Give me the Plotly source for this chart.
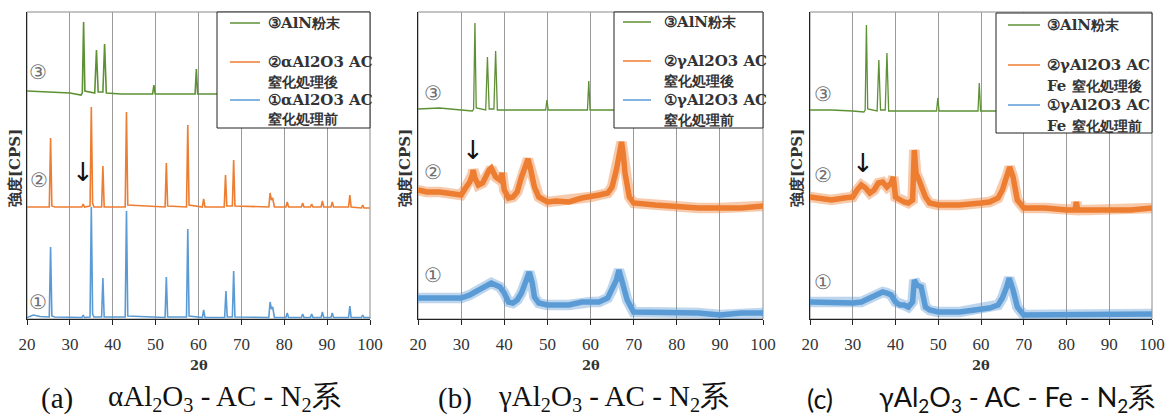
import plotly.graph_objects as go

# ---------------- data (2θ, intensity in arbitrary offset units) ----------------
X_TICKS = [20, 30, 40, 50, 60, 70, 80, 90, 100]

A_GREEN = [(20, 228), (25, 227), (30, 226), (32.6, 224), (32.9, 226), (33.2, 297), (33.5, 228),
           (35.8, 226), (36.2, 269), (36.6, 227), (37.7, 227), (38.1, 275), (38.5, 226), (42, 225),
           (49.3, 225), (49.6, 234), (49.9, 225), (55, 225), (59.2, 225), (59.5, 250), (59.8, 225),
           (65, 225), (100, 225)]
A_ORANGE = [(20, 112), (25.2, 112), (25.5, 181), (25.8, 113), (26.5, 112), (32.8, 112), (33.1, 115),
            (33.4, 112), (34.7, 113), (35.0, 212), (35.3, 116), (35.6, 112), (37.4, 112), (37.7, 153),
            (38.0, 112), (42.9, 112), (43.2, 207), (43.5, 114), (52.2, 112), (52.5, 156), (52.8, 113),
            (57.2, 112), (57.5, 194), (57.8, 114), (60.9, 112), (61.2, 120), (61.5, 112), (66.0, 112),
            (66.3, 144), (66.6, 113), (67.9, 113), (68.2, 159), (68.5, 113), (76.4, 112), (76.7, 126),
            (77.0, 119), (77.3, 121), (77.7, 112), (80.4, 112), (80.7, 117), (81.0, 112), (84.0, 112),
            (84.3, 116), (84.6, 112), (86.1, 112), (86.4, 115), (86.7, 112), (88.6, 112), (88.9, 118),
            (89.2, 112), (90.9, 112), (91.2, 117), (91.5, 112), (95.0, 112), (95.3, 124), (95.6, 112),
            (98.0, 111), (98.3, 114), (98.6, 111), (100, 111)]
A_BLUE = [(20, 1.5), (21.5, 4), (23, 2.5), (25.2, 2), (25.5, 72), (25.8, 3), (26.5, 2), (32.8, 1.5),
          (33.1, 4), (33.4, 1.5), (34.7, 2), (35.0, 112), (35.3, 5), (35.6, 2), (37.4, 2), (37.7, 41),
          (38.0, 2), (42.9, 2), (43.2, 108), (43.5, 3), (52.2, 1.5), (52.5, 42), (52.8, 2), (57.2, 2),
          (57.5, 90), (57.8, 3), (60.9, 1.5), (61.2, 9), (61.5, 1.5), (66.1, 1.5), (66.4, 28), (66.7, 2),
          (67.9, 2), (68.2, 48), (68.5, 2), (76.4, 1.5), (76.7, 17), (77.0, 10), (77.3, 12), (77.7, 1.5),
          (80.4, 1.5), (80.7, 6), (81.0, 1.5), (84.0, 1.5), (84.3, 5), (84.6, 1.5), (86.1, 1.5),
          (86.4, 5), (86.7, 1.5), (88.6, 1.5), (88.9, 7), (89.2, 1.5), (90.9, 1.5), (91.2, 6),
          (91.5, 1.5), (95.0, 1.5), (95.3, 13), (95.6, 1.5), (98.0, 1.5), (98.3, 4), (98.6, 1.5),
          (100, 1.5)]

B_GREEN = [(20, 210), (25, 211), (30, 209), (32.6, 208), (32.9, 210), (33.2, 296), (33.5, 211),
           (35.7, 209), (36.1, 262), (36.5, 210), (37.6, 210), (38.0, 268), (38.4, 209), (45, 209),
           (49.6, 209), (49.9, 219), (50.2, 209), (55, 209), (59.3, 209), (59.6, 238), (59.9, 209),
           (65, 209), (100, 209)]
B_ORANGE = [(20, 129), (22, 127), (25, 127), (28, 126), (30, 124), (31, 131), (32, 137), (32.6, 144),
            (32.8, 149), (33.2, 141), (34, 134), (35, 136), (36, 146), (36.5, 149), (37, 151), (38, 142),
            (39, 139), (39.5, 146), (40, 129), (41, 121), (42, 122), (43, 127), (44, 142), (45, 156),
            (45.5, 160), (46, 152), (47, 132), (48, 122), (50, 117), (52, 118), (55, 117), (58, 121),
            (60, 122), (62, 124), (64, 126), (65, 132), (66, 149), (66.7, 168), (67.2, 177), (67.6, 165),
            (68, 146), (69, 122), (70, 116), (75, 114), (80, 112), (85, 111), (90, 111), (95, 111),
            (100, 113)]
B_BLUE = [(20, 21), (25, 21), (28, 22), (30, 21), (32, 24), (34, 29), (36, 34), (37, 36), (38, 34),
          (39, 32), (40, 26), (41, 17), (42, 16), (43, 19), (44, 26), (45, 36), (45.8, 47), (46.5, 36),
          (47, 22), (48, 16), (50, 14), (55, 14), (58, 17), (60, 17), (62, 17), (64, 21), (65, 29),
          (66, 39), (66.6, 49), (67.5, 36), (68.5, 19), (70, 7), (75, 7), (80, 6), (85, 6), (90, 4),
          (95, 6), (100, 6)]

C_GREEN = [(20, 209), (25, 209), (30, 208), (32.6, 207), (32.9, 209), (33.2, 294), (33.5, 210),
           (35.7, 208), (36.1, 259), (36.5, 209), (37.6, 209), (38.0, 266), (38.4, 208), (45, 208),
           (49.6, 208), (49.9, 221), (50.2, 208), (55, 208), (59.3, 208), (59.6, 236), (59.9, 208),
           (65, 208), (100, 208)]
C_ORANGE = [(20, 122), (25, 119), (28, 121), (30, 122), (31, 129), (32, 134), (33, 131), (34, 126),
            (35, 129), (36, 136), (37, 137), (38, 132), (39, 136), (39.5, 142), (40, 122), (41, 119),
            (42, 117), (43, 116), (44, 119), (44.4, 169), (44.8, 146), (45.5, 139), (46, 132), (47, 122),
            (48, 116), (50, 114), (55, 114), (58, 116), (60, 116), (62, 117), (64, 121), (65, 129),
            (66, 142), (66.7, 152), (67.5, 142), (68.5, 119), (70, 111), (75, 111), (80, 109), (82, 109),
            (82.3, 117), (82.6, 109), (85, 109), (90, 109), (95, 109), (100, 111)]
C_BLUE = [(20, 17), (25, 16), (30, 16), (32, 17), (34, 21), (36, 26), (37, 27), (38, 26), (39, 24),
          (40, 17), (41, 14), (42, 14), (43, 12), (44, 17), (44.4, 39), (45, 34), (46, 32), (46.5, 22),
          (47, 12), (48, 9), (50, 7), (55, 7), (58, 9), (60, 11), (62, 11), (64, 14), (65, 21), (66, 32),
          (66.6, 41), (67.5, 29), (68.5, 12), (70, 4), (80, 4), (90, 4), (100, 5)]

# legend labels: (first line latin, first line CJK, second line)
LEGEND_A = [("③AlN", "粉末", ""), ("②αAl2O3 AC", "", "窒化処理後"), ("①αAl2O3 AC", "", "窒化処理前")]
LEGEND_B = [("③AlN", "粉末", ""), ("②γAl2O3 AC", "", "窒化処理後"), ("①γAl2O3 AC", "", "窒化処理前")]
LEGEND_C = [("③AlN", "粉末", ""), ("②γAl2O3 AC", "", "Fe 窒化処理後"), ("①γAl2O3 AC", "", "Fe 窒化処理前")]

CAPTION_TAGS = ["(a)", "(b)", "(c)"]
CAPTION_TEXTS = ["αAl<sub>2</sub>O<sub>3</sub> - AC - N<sub>2</sub>系",
                 "γAl<sub>2</sub>O<sub>3</sub> - AC - N<sub>2</sub>系",
                 "γAl<sub>2</sub>O<sub>3</sub> - AC - Fe - N<sub>2</sub>系"]

# label positions (2θ, intensity) for circled numbers and arrows
NUM_POS = [[(22.5, 247), (22.7, 139), (22.5, 17)],
           [(23.4, 226), (23.4, 147), (23.4, 44)],
           [(23.0, 225), (23.0, 144), (23.0, 37)]]
ARROW_POS = [(33.1, 147), (32.7, 169), (32.3, 156)]

# ---------------- style / layout in pixels ----------------
W, H = 1173, 416
DEJAVU = "DejaVu Serif, Liberation Serif, serif"
TIMES = "Liberation Serif, Times New Roman, Times, serif"
SANS = "Lato, Noto Sans, sans-serif"
GREEN, ORANGE, BLUE = "#5e9134", "#ed7d31", "#5b9bd5"

X_PX = [(27, 370), (418, 763), (810, 1152)]
Y_PX = (12, 319)
YLAB_X = [15, 405, 797]
CAP_TAG_X = [57, 455, 820]
CAP_TXT_X = [106, 496, 877]
# legend box (x0, x1, y0, y1), sample line x, text x, row y
LEG_BOX = [(217, 370, 12, 128), (614, 763, 12, 128), (996, 1152, 13, 133)]
LEG_LINE_X = [(230, 260), (623, 651), (1008, 1040)]
LEG_TEXT_X = [266, 662, 1045]
LEG_ROWS = [(23, 62, 82, 100, 119), (22, 61, 81, 100, 120), (25, 65, 86, 105, 126)]
CJK_SPAN = "<span style='font-size:14px'>{}</span>"

panels = [
    (A_GREEN, A_ORANGE, A_BLUE, LEGEND_A, 1.6, 1.6, False),
    (B_GREEN, B_ORANGE, B_BLUE, LEGEND_B, 1.3, 5.5, True),
    (C_GREEN, C_ORANGE, C_BLUE, LEGEND_C, 1.3, 5.5, True),
]


def px(x):
    return x / W


def py(y):
    return 1 - y / H


fig = go.Figure()
layout = dict(width=W, height=H, margin=dict(l=0, r=0, t=0, b=0, autoexpand=False),
              paper_bgcolor="white", plot_bgcolor="white", showlegend=False)
annotations = []
shapes = []

for i, (g, o, b, names, gw, nw, noisy) in enumerate(panels):
    sfx = "" if i == 0 else str(i + 1)
    xa, ya = "x" + sfx, "y" + sfx
    for data, color, lw in [(g, GREEN, gw), (o, ORANGE, nw), (b, BLUE, nw)]:
        xs = [p[0] for p in data]
        ys = [p[1] for p in data]
        if noisy and color != GREEN:
            # soft halo to mimic the noisy band edges
            fig.add_trace(go.Scatter(x=xs, y=ys, mode="lines", line=dict(color=color, width=lw + 5),
                                     opacity=0.4, xaxis=xa, yaxis=ya, hoverinfo="skip"))
        fig.add_trace(go.Scatter(x=xs, y=ys, mode="lines", line=dict(color=color, width=lw),
                                 xaxis=xa, yaxis=ya, hoverinfo="skip"))
    layout["xaxis" + sfx] = dict(domain=[px(X_PX[i][0]), px(X_PX[i][1])], anchor=ya, range=[20, 100],
                                 tickvals=X_TICKS, automargin=False,
                                 showgrid=True, gridcolor="#9a9a9a", gridwidth=1, zeroline=False,
                                 showline=True, linecolor="#222", linewidth=1.2,
                                 ticks="outside", ticklen=5, tickcolor="#222",
                                 ticklabelstandoff=4,
                                 tickfont=dict(family=TIMES, size=17, color="#333"))
    layout["yaxis" + sfx] = dict(domain=[py(Y_PX[1]), py(Y_PX[0])], anchor=xa, range=[0, 307],
                                 automargin=False, showgrid=False,
                                 zeroline=False, showticklabels=False, ticks="",
                                 showline=True, linecolor="#222", linewidth=1.2)
    shapes.append(dict(type="rect", xref=xa + " domain", yref=ya + " domain", x0=0, x1=1, y0=0, y1=1,
                       line=dict(color="#8a8a8a", width=1), layer="below"))
    # x-axis title
    annotations.append(dict(x=0.5, y=py(365), xref=xa + " domain", yref="paper", text="<b>2θ</b>",
                            showarrow=False, xanchor="center", yanchor="middle",
                            font=dict(family=DEJAVU, size=13, color="#333")))
    # legend box
    bx0, bx1, by0, by1 = LEG_BOX[i]
    shapes.append(dict(type="rect", xref="paper", yref="paper", x0=px(bx0), x1=px(bx1),
                       y0=py(by1), y1=py(by0), fillcolor="white",
                       line=dict(color="#222", width=1), layer="above"))
    rows = LEG_ROWS[i]
    lx0, lx1 = LEG_LINE_X[i]
    for (l1, cjk1, l2), color, ry in zip(names, [GREEN, ORANGE, BLUE], [rows[0], rows[1], rows[3]]):
        shapes.append(dict(type="line", xref="paper", yref="paper", x0=px(lx0), x1=px(lx1),
                           y0=py(ry), y1=py(ry), line=dict(color=color, width=1.5), layer="above"))
        txt = l1 + (CJK_SPAN.format(cjk1) if cjk1 else "")
        annotations.append(dict(x=px(LEG_TEXT_X[i]), y=py(ry), xref="paper", yref="paper", text=txt,
                                showarrow=False, xanchor="left", yanchor="middle",
                                font=dict(family=DEJAVU, size=15, color="#333", weight="bold")))
    for l2, ry in zip([names[1][2], names[2][2]], [rows[2], rows[4]]):
        if l2.startswith("Fe "):
            txt = "Fe " + CJK_SPAN.format(l2[3:])
        else:
            txt = CJK_SPAN.format(l2)
        annotations.append(dict(x=px(LEG_TEXT_X[i]), y=py(ry), xref="paper", yref="paper", text=txt,
                                showarrow=False, xanchor="left", yanchor="middle",
                                font=dict(family=DEJAVU, size=15, color="#333", weight="bold")))
    # circled labels
    for (nx, ny), txt in zip(NUM_POS[i], ["③", "②", "①"]):
        annotations.append(dict(x=nx, y=ny, xref=xa, yref=ya, text=txt, showarrow=False,
                                xanchor="center", yanchor="middle",
                                font=dict(family=DEJAVU, size=20, color="#707070")))
    ax_, ay_ = ARROW_POS[i]
    annotations.append(dict(x=ax_, y=ay_, xref=xa, yref=ya, text="↓", showarrow=False,
                            xanchor="center", yanchor="middle",
                            font=dict(family="DejaVu Sans", size=26, color="#111")))
    annotations.append(dict(x=px(YLAB_X[i]), y=py(168), xref="paper", yref="paper",
                            xanchor="center", yanchor="middle",
                            text="<b>強度[CPS]</b>", textangle=-90, showarrow=False,
                            font=dict(family=DEJAVU, size=15, color="#333")))
    capfont = SANS if i == 2 else TIMES
    capsize = 27 if i == 2 else 29
    annotations.append(dict(x=px(CAP_TAG_X[i]), y=py(398), xref="paper", yref="paper",
                            text=CAPTION_TAGS[i], showarrow=False, xanchor="center", yanchor="middle",
                            font=dict(family=capfont, size=capsize, color="#111")))
    annotations.append(dict(x=px(CAP_TXT_X[i]), y=py(398), xref="paper", yref="paper",
                            text=CAPTION_TEXTS[i], showarrow=False, xanchor="left", yanchor="middle",
                            font=dict(family=capfont, size=capsize, color="#111")))

layout["annotations"] = annotations
layout["shapes"] = shapes
fig.update_layout(**layout)
fig.write_html("out.html")
